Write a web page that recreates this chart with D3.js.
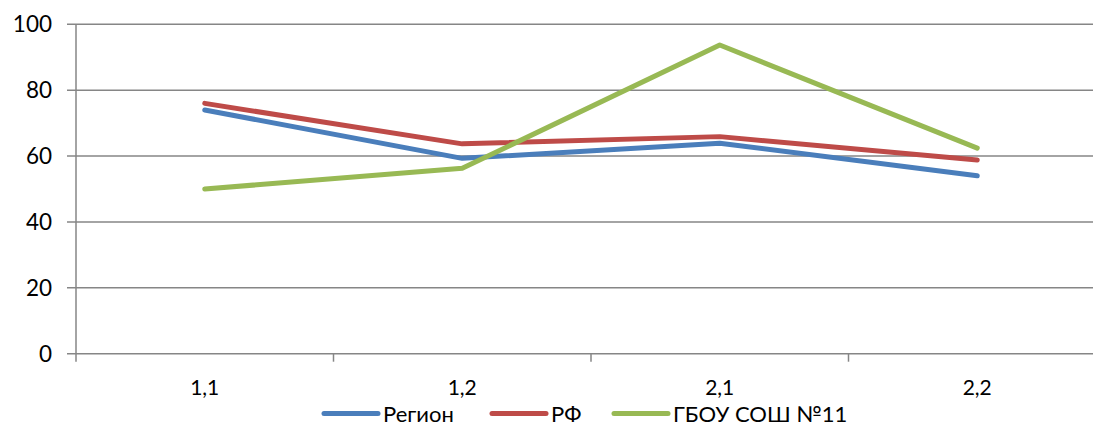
<!DOCTYPE html>
<html><head><meta charset="utf-8">
<script src="https://cdn.jsdelivr.net/npm/d3@7"></script>
<style>body{margin:0;background:#fff}svg{display:block}</style>
</head><body>
<svg id="c" width="1093" height="426"></svg>
<script>
const categories = ["1,1", "1,2", "2,1", "2,2"];
const seriesNames = ["Регион", "РФ", "ГБОУ СОШ №11"];
const region = [74.0, 59.3, 63.9, 54.0];
const rf = [76.0, 63.7, 65.9, 58.8];
const school = [50.0, 56.3, 93.7, 62.4];
const yTicks = [0, 20, 40, 60, 80, 100];
const colors = ["#4a7ebb", "#be4b48", "#98b954"];

const svg = d3.select("#c");
const font = "Lato, 'Open Sans', sans-serif";
const x0 = 76, x1 = 76 + 4 * 257.5, yTop = 24.3, yBot = 353.7;
const x = d3.scaleBand().domain(categories).range([x0, x1]);
const y = d3.scaleLinear().domain([0, 100]).range([yBot, yTop]);
const grid = "#868686";

// gridlines
svg.append("g").selectAll("line").data(yTicks).join("line")
  .attr("x1", x0 - 9).attr("x2", 1093)
  .attr("y1", d => y(d)).attr("y2", d => y(d))
  .attr("stroke", grid).attr("stroke-width", 1.5);
// y axis line
svg.append("line").attr("x1", x0).attr("x2", x0).attr("y1", yTop).attr("y2", yBot + 8)
  .attr("stroke", grid).attr("stroke-width", 1.5);
// x tick marks at band boundaries
svg.append("g").selectAll("line").data(categories.slice(1)).join("line")
  .attr("x1", d => x(d)).attr("x2", d => x(d))
  .attr("y1", yBot).attr("y2", yBot + 8)
  .attr("stroke", grid).attr("stroke-width", 1.5);
// y labels
svg.append("g").selectAll("text").data(yTicks).join("text")
  .attr("x", 52).attr("y", d => y(d)).attr("dy", "0.35em")
  .attr("text-anchor", "end").attr("font-family", font).attr("font-size", 22.5)
  .attr("fill", "#000").text(d => d);
// x labels
svg.append("g").selectAll("text").data(categories).join("text")
  .attr("x", d => x(d) + x.bandwidth() / 2).attr("y", 387.5).attr("dy", "0.35em")
  .attr("text-anchor", "middle").attr("font-family", font).attr("font-size", 21)
  .attr("fill", "#000").text(d => d);

const series = [region, rf, school];
const line = d3.line().x((d, i) => x(categories[i]) + x.bandwidth() / 2).y(d => y(d));
series.forEach((s, k) => {
  svg.append("path").attr("d", line(s)).attr("fill", "none")
    .attr("stroke", colors[k]).attr("stroke-width", 5)
    .attr("stroke-linecap", "round").attr("stroke-linejoin", "round");
});

// legend
const legX = [324, 492, 614];
const lg = svg.append("g");
seriesNames.forEach((n, k) => {
  lg.append("line").attr("x1", legX[k]).attr("x2", legX[k] + 54)
    .attr("y1", 413.5).attr("y2", 413.5).attr("stroke", colors[k]).attr("stroke-width", 5)
    .attr("stroke-linecap", "round");
  lg.append("text").attr("x", legX[k] + 59).attr("y", 414).attr("dy", "0.35em")
    .attr("font-family", font).attr("font-size", 22).attr("fill", "#000").text(n);
});
</script>
</body></html>
